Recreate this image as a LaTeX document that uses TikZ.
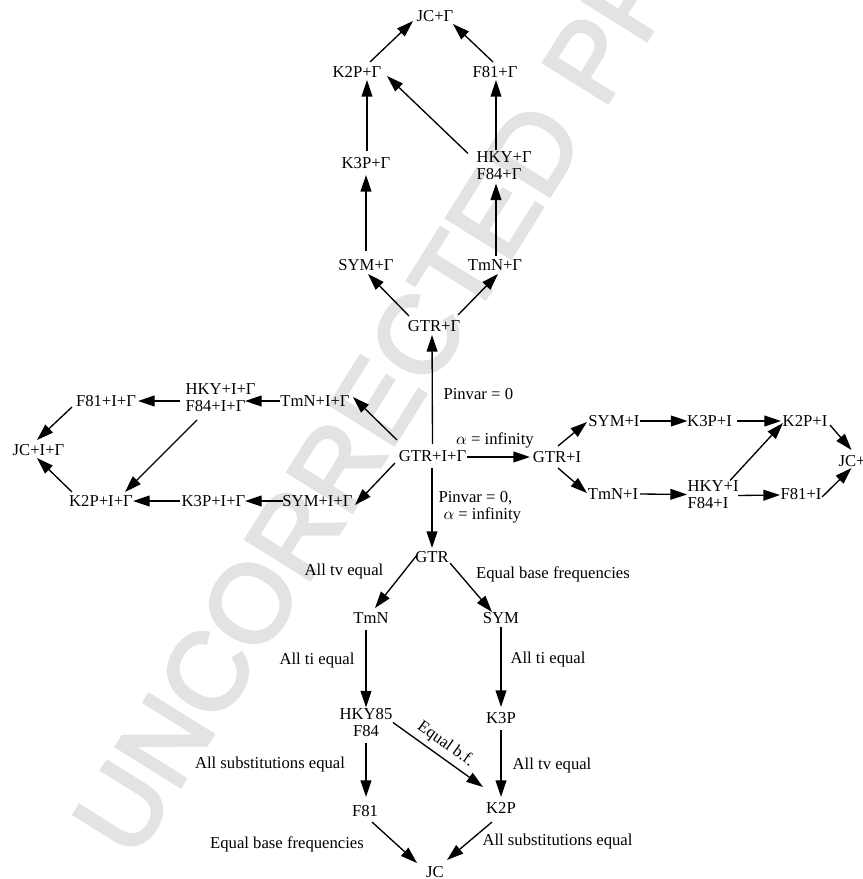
\documentclass[tikz,border=0pt]{standalone}
\usepackage{fontspec}
\setmainfont{Liberation Serif}
\newfontfamily\wmfont[FakeBold=3]{Liberation Sans}
\usetikzlibrary{arrows.meta,calc}
\begin{document}
\begin{tikzpicture}[x=0.6pt,y=-0.6pt,
  lbl/.style={font=\fontsize{10}{10.2}\selectfont, inner sep=1pt, text height=6.8pt, text depth=0.5pt},
  two/.style={font=\fontsize{10}{10.2}\selectfont, inner sep=1pt, align=left},
  twoc/.style={font=\fontsize{10}{10.2}\selectfont, inner sep=1pt, align=center},
  arr/.style={line width=0.8pt, -{Triangle[length=10pt,width=6.5pt]}},
  wm/.style={rotate=58, text=black!11, font=\wmfont\fontsize{66}{66}\selectfont, inner sep=0pt}
]
\useasboundingbox (0,0) rectangle (862,879);
\node[wm] (water) at (440,300) {UNCORRECTED PROOF};

% top block (+Gamma)
\node[lbl] (jcg) at (435,16) {JC+Γ};
\node[lbl] (k2pg) at (357,72) {K2P+Γ};
\node[lbl] (f81g) at (495,72) {F81+Γ};
\node[lbl] (k3pg) at (366,163) {K3P+Γ};
\node[two, anchor=west] (hkyg) at (474.5,165.5) {HKY+Γ\\F84+Γ};
\node[lbl] (symg) at (366,265) {SYM+Γ};
\node[lbl] (tmng) at (495,265) {TmN+Γ};
\node[lbl] (gtrg) at (434,326) {GTR+Γ};
% centre
\node[lbl] (gtrig) at (432.5,456) {GTR+I+Γ};
% left block
\node[lbl] (tmnig) at (315,401) {TmN+I+Γ};
\node[two, anchor=west] (hkyig) at (183.5,397.5) {HKY+I+Γ\\F84+I+Γ};
\node[lbl] (f81ig) at (106,401) {F81+I+Γ};
\node[lbl] (jcig) at (38.5,450) {JC+I+Γ};
\node[lbl] (k2pig) at (101,501) {K2P+I+Γ};
\node[lbl] (k3pig) at (213.5,501) {K3P+I+Γ};
\node[lbl] (symig) at (317.5,501) {SYM+I+Γ};
% right block
\node[lbl] (gtri) at (557,457) {GTR+I};
\node[lbl] (symi) at (614,421) {SYM+I};
\node[lbl] (k3pi) at (709.5,421) {K3P+I};
\node[lbl] (k2pi) at (805,421) {K2P+I};
\node[lbl, anchor=west] (jci) at (836.5,461) {JC+};
\node[lbl] (tmni) at (613,494) {TmN+I};
\node[two, anchor=west] (hkyi) at (685.5,494.5) {HKY+I\\F84+I};
\node[lbl] (f81i) at (801,494) {F81+I};
% bottom block
\node[lbl] (gtr) at (432,557) {GTR};
\node[lbl] (tmn) at (371,618) {TmN};
\node[lbl] (sym) at (501,618) {SYM};
\node[twoc] (hky85) at (366,722.5) {HKY85\\F84};
\node[lbl] (k3p) at (501,718) {K3P};
\node[lbl] (f81) at (365,811) {F81};
\node[lbl] (k2p) at (501,808) {K2P};
\node[lbl] (jc) at (435,872) {JC};

% labels
\node[lbl, anchor=west] (pv1) at (441.5,394) {Pinvar = 0};
\node[lbl] (ainf1) at (495,439) {$\alpha$ = infinity};
\node[lbl, anchor=west] (pv2) at (436.5,497) {Pinvar = 0,};
\node[lbl, anchor=west] (ainf2) at (441.5,514) {$\alpha$ = infinity};
\node[lbl] (l1) at (344,570) {All tv equal};
\node[lbl] (l2) at (553,573) {Equal base frequencies};
\node[lbl] (l3) at (317,659) {All ti equal};
\node[lbl] (l4) at (548,658) {All ti equal};
\node[lbl] (l5) at (270,763) {All substitutions equal};
\node[lbl] (l6) at (552,764) {All tv equal};
\node[lbl] (l7) at (287,843) {Equal base frequencies};
\node[lbl, anchor=west] (l8) at (480.5,840) {All substitutions equal};

% top arrows
\draw[arr] ($(k2pg)+(13,-10)$) -- ($(jcg)+(-22,5)$);
\draw[arr] ($(f81g)+(-2,-10)$) -- ($(jcg)+(18,8)$);
\draw[arr] ($(k3pg)+(1,-12)$) -- ($(k2pg)+(10,8)$);
\draw[arr] ($(hkyg.west)+(-6.5,-12)$) -- ($(k2pg)+(30,4)$);
\draw[arr] ($(hkyg.west)+(21.5,-15)$) -- ($(f81g)+(1,8)$);
\draw[arr] ($(symg)+(0,-14)$) -- ($(k3pg)+(0,12)$);
\draw[arr] ($(tmng)+(1,-9)$) -- ($(hkyg.west)+(21.5,18)$);
\draw[arr] ($(gtrg)+(-25,-10)$) -- ($(symg)+(2,9)$);
\draw[arr] ($(gtrg)+(24,-11)$) -- ($(tmng)+(3,9)$);
\draw[arr] ($(gtrig)+(0,-12)$) -- ($(gtrg)+(-2,9)$);

% left arrows
\draw[arr] ($(gtrig)+(-35.5,-16)$) -- ($(tmnig)+(38,-4)$);
\draw[arr] ($(tmnig)+(-35,0)$) -- ($(hkyig.west)+(61.5,3.5)$);
\draw[arr] ($(hkyig.west)+(-3.5,3.5)$) -- ($(f81ig)+(32,0)$);
\draw[arr] ($(f81ig)+(-34,6)$) -- ($(jcig)+(-1.5,-10)$);
\draw[arr] ($(hkyig.west)+(13.5,22.5)$) -- ($(k2pig)+(24,-9)$);
\draw[arr] ($(k2pig)+(-29,-9)$) -- ($(jcig)+(-1.5,8)$);
\draw[arr] ($(k3pig)+(-33.5,0)$) -- ($(k2pig)+(32,0)$);
\draw[arr] ($(symig)+(-34.5,0)$) -- ($(k3pig)+(31.5,0)$);
\draw[arr] ($(gtrig)+(-37.5,7)$) -- ($(symig)+(37.5,4)$);

% right arrows
\draw[arr] ($(gtrig)+(34.5,1)$) -- ($(gtri)+(-27,0)$);
\draw[arr] ($(gtri)+(1,-11)$) -- ($(symi)+(-27,1)$);
\draw[arr] ($(gtri)+(1,11)$) -- ($(tmni)+(-26,-1)$);
\draw[arr] ($(symi)+(26,0)$) -- ($(k3pi)+(-22,0)$);
\draw[arr] ($(k3pi)+(27.5,0)$) -- ($(k2pi)+(-24,0)$);
\draw[arr] ($(k2pi)+(25,4)$) -- ($(jci.west)+(15,-11)$);
\draw[arr] ($(tmni)+(27,0)$) -- ($(hkyi.west)+(1.5,0)$);
\draw[arr] ($(hkyi.west)+(44.5,-14)$) -- ($(k2pi)+(-22,2)$);
\draw[arr] ($(hkyi.west)+(52.5,1)$) -- ($(f81i)+(-21,1)$);
\draw[arr] ($(f81i)+(21,3)$) -- ($(jci.west)+(15,7)$);

% down arrow
\draw[arr] ($(gtrig)+(-0.5,12)$) -- ($(gtr)+(0,-9)$);

% bottom arrows
\draw[arr] ($(gtr)+(-15,-2)$) -- ($(tmn)+(4,-10)$);
\draw[arr] ($(gtr)+(18,6)$) -- ($(sym)+(-9,-6)$);
\draw[arr] ($(tmn)+(-5,12)$) -- ($(hky85)+(0,-15)$);
\draw[arr] ($(sym)+(0,9)$) -- ($(k3p)+(0,-11)$);
\draw[arr] ($(hky85)+(0,20)$) -- ($(f81)+(1,-14)$);
\draw[arr] ($(hky85)+(27,0)$) -- node[lbl, sloped, anchor=south, inner sep=4.5pt] (ebf) {Equal b.f.} ($(k2p)+(-18,-21)$);
\draw[arr] ($(k3p)+(0,12)$) -- ($(k2p)+(0,-11)$);
\draw[arr] ($(f81)+(7,11)$) -- ($(jc)+(-18,-9)$);
\draw[arr] ($(k2p)+(-9,14)$) -- ($(jc)+(12,-12)$);
\end{tikzpicture}
\end{document}
